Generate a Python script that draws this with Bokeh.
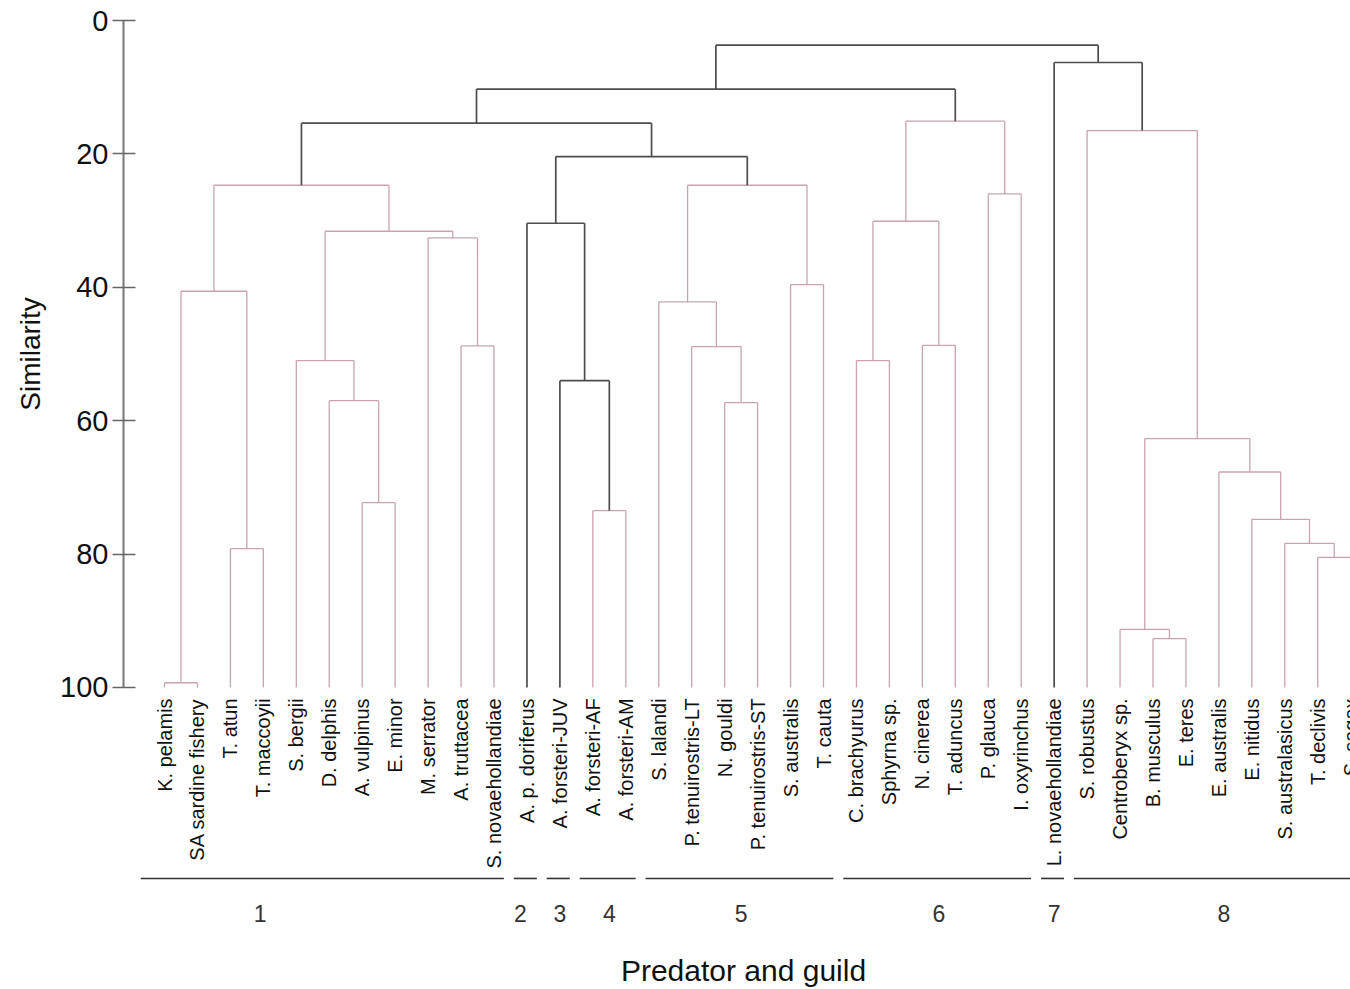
import math
from bokeh.plotting import figure
from bokeh.models import ColumnDataSource, Range1d, LinearAxis, FixedTicker
from bokeh.core.properties import value
from bokeh.embed import file_html
from bokeh.resources import INLINE

# Predators (leaf order along the dendrogram)
leaves = [
    "K. pelamis", "SA sardine fishery", "T. atun", "T. maccoyii", "S. bergii",
    "D. delphis", "A. vulpinus", "E. minor", "M. serrator", "A. truttacea",
    "S. novaehollandiae", "A. p. doriferus", "A. forsteri-JUV", "A. forsteri-AF",
    "A. forsteri-AM", "S. lalandi", "P. tenuirostris-LT", "N. gouldi",
    "P. tenuirostris-ST", "S. australis", "T. cauta", "C. brachyurus",
    "Sphyrna sp.", "N. cinerea", "T. aduncus", "P. glauca", "I. oxyrinchus",
    "L. novaehollandiae", "S. robustus", "Centroberyx sp.", "B. musculus",
    "E. teres", "E. australis", "E. nitidus", "S. australasicus", "T. declivis",
    "S. sagax",
]

# Feeding guild of each predator
guilds = [1] * 11 + [2] + [3] + [4] * 2 + [5] * 6 + [6] * 6 + [7] + [8] * 9

# Agglomeration steps: indices < len(leaves) are predators,
# higher indices refer to the node created by an earlier step.
merge_left = [0, 2, 37, 6, 5, 4, 9, 8, 42, 39,
              13, 12, 11, 17, 16, 15, 19, 52, 49, 46,
              21, 23, 57, 25, 59, 56,
              30, 29, 35, 34, 33, 32, 64, 28, 27, 62]
merge_right = [1, 3, 38, 7, 40, 41, 10, 43, 44, 45,
               14, 47, 48, 18, 50, 51, 20, 53, 54, 55,
               22, 24, 58, 26, 60, 61,
               31, 63, 36, 65, 66, 67, 68, 69, 70, 71]
merge_similarity = [99.3, 79.2, 40.6, 72.3, 57.0, 51.0, 48.8, 32.6, 31.6, 24.7,
                    73.5, 54.0, 30.4, 57.3, 48.9, 42.2, 39.6, 24.7, 20.4, 15.4,
                    51.0, 48.7, 30.1, 26.0, 15.1, 10.3,
                    92.7, 91.3, 80.5, 78.4, 74.8, 67.7, 62.7, 16.5, 6.3, 3.7]

y_ticks = [0, 20, 40, 60, 80, 100]

PINK = "#C9A4AD"
DARK = "#4d4d4d"
FONT = "Liberation Sans"

W, H = 1350, 989
LEAF0_PX, LEAF_STEP_PX = 164.0, 32.95   # horizontal placement of the leaves


def px_to_x(px):
    return (px - LEAF0_PX) / LEAF_STEP_PX


n = len(leaves)

# ---- node geometry -------------------------------------------------------
node_x = [float(i) for i in range(n)]
node_h = [100.0] * n
node_guilds = [{g} for g in guilds]
for l, r, s in zip(merge_left, merge_right, merge_similarity):
    node_x.append((node_x[l] + node_x[r]) / 2.0)
    node_h.append(s)
    node_guilds.append(node_guilds[l] | node_guilds[r])

x0, y0, x1, y1, cols, widths = [], [], [], [], [], []
for k, (l, r, s) in enumerate(zip(merge_left, merge_right, merge_similarity)):
    inside = len(node_guilds[n + k]) == 1
    c = PINK if inside else DARK
    w = 1.3 if inside else 1.7
    # horizontal bar joining the two children
    x0.append(node_x[l]); y0.append(s); x1.append(node_x[r]); y1.append(s)
    cols.append(c); widths.append(w)
    # vertical drops to each child
    for ch in (l, r):
        x0.append(node_x[ch]); y0.append(node_h[ch])
        x1.append(node_x[ch]); y1.append(s)
        cols.append(c); widths.append(w)

seg_src = ColumnDataSource(dict(x0=x0, y0=y0, x1=x1, y1=y1, color=cols, width=widths))

# ---- figure ----------------------------------------------------------------
p = figure(
    width=W, height=H,
    x_range=Range1d(px_to_x(0), px_to_x(W)),
    y_range=Range1d(145.3, -3.0),
    output_backend="svg", toolbar_location=None,
    x_axis_type=None, y_axis_type=None,
    min_border_left=0, min_border_right=0, min_border_top=0, min_border_bottom=0,
)
p.outline_line_color = None
p.xgrid.visible = False
p.ygrid.visible = False
p.background_fill_color = "white"
p.border_fill_color = "white"

axis_x = px_to_x(123)
yaxis = LinearAxis(
    ticker=FixedTicker(ticks=y_ticks),
    bounds=(0, 100),
    fixed_location=axis_x,
    major_label_text_font=FONT,
    major_label_text_font_size="29px",
    major_label_text_color="#111111",
    major_label_standoff=4,
    axis_line_color="#777777",
    axis_line_width=2,
    major_tick_line_color="#666666",
    major_tick_line_width=1.5,
    major_tick_in=12,
    major_tick_out=11,
    minor_tick_line_color=None,
)
p.add_layout(yaxis, "left")

# axis title, centred on the 0-100 span of the similarity axis
p.text([px_to_x(30)], [50], text=["Similarity"], angle=math.pi / 2,
       text_align="center", text_baseline="middle",
       text_font=value(FONT), text_font_size="28px", text_color="#111111")

p.segment("x0", "y0", "x1", "y1", source=seg_src,
          line_color="color", line_width="width")

# ---- predator names --------------------------------------------------------
label_src = ColumnDataSource(dict(x=list(range(n)), y=[101.65] * n, text=leaves))
p.text("x", "y", text="text", source=label_src,
       angle=math.pi / 2, text_align="right", text_baseline="middle",
       text_font=value(FONT), text_font_size="20px", text_color="#111111")

# ---- guild bars and numbers ------------------------------------------------
guild_ids = sorted(set(guilds))
bar_x0, bar_x1, num_x, num_t = [], [], [], []
number_shift = {1: -2.1, 2: -0.2, 8: 0.15}
for g in guild_ids:
    idx = [i for i, gg in enumerate(guilds) if gg == g]
    bar_x0.append(idx[0] - 0.4 if g != 1 else idx[0] - 0.72)
    bar_x1.append(idx[-1] + 0.3)
    num_x.append((idx[0] + idx[-1]) / 2.0 + number_shift.get(g, 0.0))
    num_t.append(str(g))

bar_level = 128.65
p.segment(bar_x0, [bar_level] * len(guild_ids), bar_x1, [bar_level] * len(guild_ids),
          line_color="#333333", line_width=1.6)
p.text(num_x, [133.9] * len(guild_ids), text=num_t,
       text_align="center", text_baseline="middle",
       text_font=value(FONT), text_font_size="23px", text_color="#333333")

p.text([px_to_x(743)], [142.4], text=["Predator and guild"],
       text_align="center", text_baseline="middle",
       text_font=value(FONT), text_font_size="30px", text_color="#111111")

open("out.html", "w").write(file_html(p, INLINE))
